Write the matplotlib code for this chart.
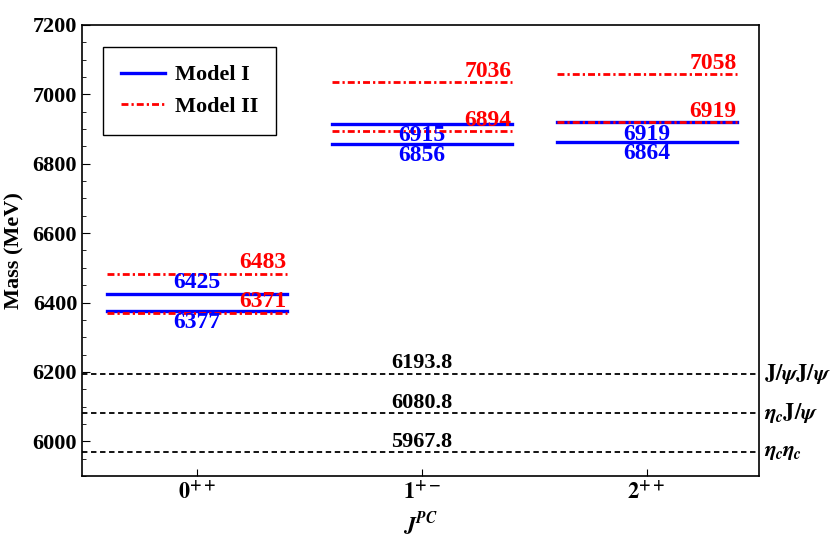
import matplotlib
matplotlib.use("Agg")
import matplotlib.pyplot as plt
import matplotlib.transforms as mtransforms
from matplotlib.ticker import MultipleLocator

plt.rcParams['font.family'] = ['Liberation Serif', 'DejaVu Serif']
plt.rcParams['font.weight'] = 'bold'
plt.rcParams['mathtext.fontset'] = 'stix'

# Daten
jpc_labels = [r'$\mathbf{0}^{++}$', r'$\mathbf{1}^{+-}$', r'$\mathbf{2}^{++}$']
model1 = [[6377, 6425], [6856, 6915], [6864, 6919]]
model2 = [[6371, 6483], [6894, 7036], [6919, 7058]]
# Beschriftung von Model I ueber der Linie?
model1_above = [[False, True], [False, False], [False, False]]
thresholds = [5967.8, 6080.8, 6193.8]
threshold_names = [r'$\eta_c\eta_c$', r'$\eta_c\mathbf{J}/\psi$', r'$\mathbf{J}/\psi\mathbf{J}/\psi$']

half = 0.40

fig = plt.figure(figsize=(8.3, 5.54), dpi=100)
ax = fig.add_axes([0.0988, 0.1408, 0.8157, 0.8141])
fs = 16
fs_lvl = 17

blue = '#0000ff'
red = '#ff0000'
dashdot = (0, (2.5, 1.1, 0.8, 1.1))

for i in range(len(jpc_labels)):
    x0, x1 = i - half, i + half
    for j, m in enumerate(model2[i]):
        ax.plot([x0, x1], [m, m], color=red, lw=2.0, linestyle=dashdot,
                label='Model II' if (i == 0 and j == 0) else None, zorder=3)
        ax.text(x1, m + 1, str(m), color=red, fontsize=fs_lvl, fontweight='bold',
                ha='right', va='bottom', zorder=4)
    for j, m in enumerate(model1[i]):
        ax.plot([x0, x1], [m, m], color=blue, lw=2.4, linestyle='-',
                label='Model I' if (i == 0 and j == 0) else None, zorder=2)
        if model1_above[i][j]:
            ax.text(i, m + 2, str(m), color=blue, fontsize=fs_lvl, fontweight='bold',
                    ha='center', va='bottom', zorder=4)
        else:
            ax.text(i, m - 3, str(m), color=blue, fontsize=fs_lvl, fontweight='bold',
                    ha='center', va='top', zorder=4)

trans = mtransforms.blended_transform_factory(ax.transAxes, ax.transData)
for t, name in zip(thresholds, threshold_names):
    ax.axhline(t, color='black', lw=1.3, linestyle=(0, (3, 2)), zorder=1)
    ax.text(1, t + 2, f'{t:.1f}', color='black', fontsize=fs, fontweight='bold',
            ha='center', va='bottom')
    ax.text(1.007, t, name, transform=trans, fontsize=fs, ha='left', va='center',
            clip_on=False)

ax.set_xlim(-0.51, 2.5)
ax.set_ylim(5900, 7200)
ax.set_xticks(range(len(jpc_labels)))
ax.set_xticklabels(jpc_labels, fontsize=fs)
ax.yaxis.set_major_locator(MultipleLocator(200))
ax.yaxis.set_minor_locator(MultipleLocator(50))
ax.tick_params(axis='y', which='both', direction='in', labelsize=fs, right=False)
ax.tick_params(axis='y', which='major', length=6)
ax.tick_params(axis='y', which='minor', length=3)
ax.tick_params(axis='x', direction='in', length=5, top=False, pad=3)
for lbl in ax.get_yticklabels():
    lbl.set_fontweight('bold')
for s in ax.spines.values():
    s.set_linewidth(1.2)

ax.set_ylabel('Mass (MeV)', fontsize=fs, fontweight='bold', labelpad=6)
ax.set_xlabel(r'$\mathbfit{J}^{\mathbfit{PC}}$', fontsize=fs, labelpad=4)

handles, labels = ax.get_legend_handles_labels()
order = [labels.index('Model I'), labels.index('Model II')]
leg = ax.legend([handles[k] for k in order], [labels[k] for k in order],
                loc='upper left', bbox_to_anchor=(0.031, 0.951), borderaxespad=0,
                fancybox=False, edgecolor='black', framealpha=1, fontsize=fs,
                handlelength=2.0, borderpad=0.8, labelspacing=0.5, handletextpad=0.45)
leg.get_frame().set_linewidth(1.0)
for txt in leg.get_texts():
    txt.set_fontweight('bold')

fig.savefig('out.png', dpi=100)
